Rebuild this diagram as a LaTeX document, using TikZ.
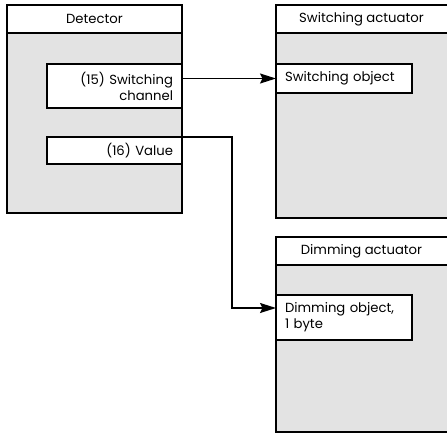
\documentclass[tikz,border=0pt]{standalone}
\usepackage{fontspec}
\setmainfont{Poppins}
\usetikzlibrary{arrows.meta}
\definecolor{panelgray}{HTML}{E3E3E3}
\begin{document}
\begin{tikzpicture}[x=1pt,y=-1pt,
  every node/.style={font=\fontsize{13.2}{16}\selectfont, inner sep=0pt, outer sep=0pt},
  panel/.style={draw=black, line width=1.6pt, fill=panelgray, anchor=north west},
  header/.style={draw=black, line width=1.6pt, fill=white, anchor=north west},
  obj/.style={draw=black, line width=1.6pt, fill=white, anchor=north west},
  conn/.style={line width=1.6pt, -{Stealth[length=16pt,width=10pt,inset=2.5pt]}}]
\useasboundingbox (0,0) rectangle (447,434);
% Detector
\node[panel, minimum width=175pt, minimum height=208pt] (det) at (7,5) {};
\node[header, minimum width=175pt, minimum height=28pt] (deth) at (7,5) {Detector};
\node[obj, minimum width=135pt, minimum height=44pt, text width=117pt, align=right] (ch15) at (47,64) {(15) Switching\\channel};
\node[obj, minimum width=135pt, minimum height=27pt, text width=117pt, align=right] (val) at (47,137) {(16) Value};
% Switching actuator
\node[panel, minimum width=175pt, minimum height=213pt] (sa) at (276,5) {};
\node[header, minimum width=175pt, minimum height=28pt] (sah) at (276,5) {\hspace*{-4pt}Switching actuator};
\node[obj, minimum width=136pt, minimum height=29pt, text width=118pt, align=left] (so) at (276,64) {Switching object};
% Dimming actuator
\node[panel, minimum width=175pt, minimum height=195pt] (da) at (276,237) {};
\node[header, minimum width=175pt, minimum height=28pt] (dah) at (276,237) {\hspace*{-4pt}Dimming actuator};
\node[obj, minimum width=136pt, minimum height=45pt, text width=118pt, align=left] (do) at (276,295) {Dimming object,\\1 byte};
% connectors
\coordinate (bend1) at (232,137);
\coordinate (bend2) at (232,308);
\coordinate (dotarget) at (do.west |- bend2);
\draw[conn] (so.west -| ch15.east) -- (so.west);
\draw[conn] (val.north east) -- (bend1) -- (bend2) -- (dotarget);
\end{tikzpicture}
\end{document}
